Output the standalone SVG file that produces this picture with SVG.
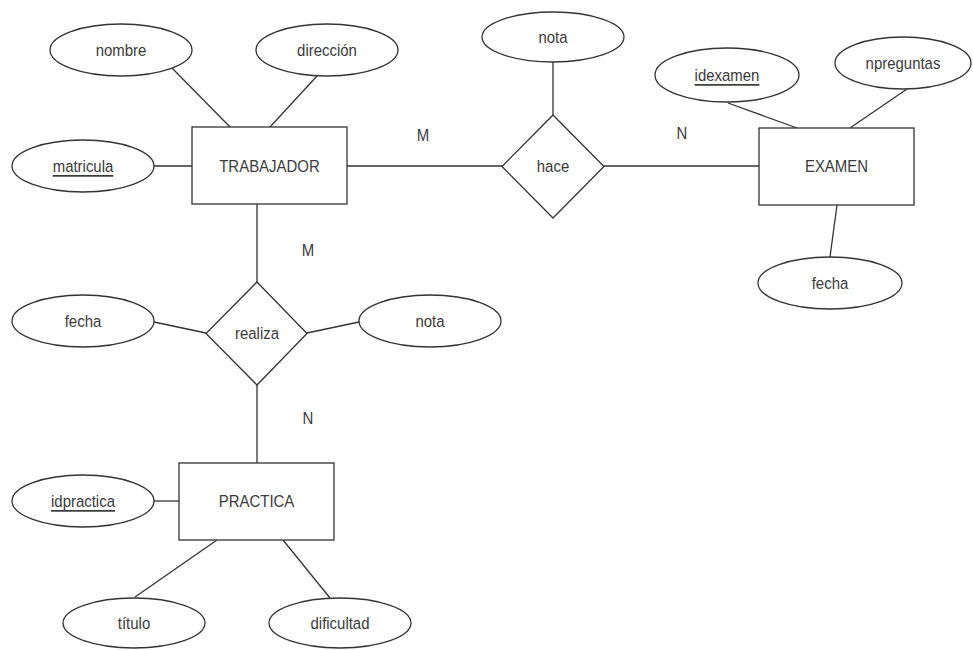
<svg xmlns="http://www.w3.org/2000/svg" width="973" height="650" viewBox="0 0 973 650">
<style>
.sh{fill:#fff;stroke:#333;stroke-width:1.3}
.ln{stroke:#333;stroke-width:1.3;fill:none}
text{font-family:"Liberation Sans",Arial,sans-serif;font-size:17px;fill:#3a3a3a;text-anchor:middle;dominant-baseline:central;transform-box:fill-box;transform-origin:center;transform:scaleX(0.88)}
.u{text-decoration:underline}
</style>
<rect width="973" height="650" fill="#fff"/>
<g id="connectors">
<line class="ln" x1="172" y1="68" x2="230" y2="127"/>
<line class="ln" x1="317" y1="76" x2="270" y2="127"/>
<line class="ln" x1="154" y1="166" x2="192" y2="166"/>
<line class="ln" x1="347" y1="166" x2="502" y2="166"/>
<line class="ln" x1="553" y1="62" x2="553" y2="115"/>
<line class="ln" x1="604" y1="166" x2="759" y2="166"/>
<line class="ln" x1="728" y1="103" x2="797" y2="128"/>
<line class="ln" x1="907" y1="89" x2="850" y2="128"/>
<line class="ln" x1="837" y1="205" x2="830" y2="257"/>
<line class="ln" x1="257" y1="204" x2="257" y2="282"/>
<line class="ln" x1="154" y1="322" x2="206" y2="333"/>
<line class="ln" x1="307" y1="333" x2="359" y2="322"/>
<line class="ln" x1="257" y1="385" x2="257" y2="463"/>
<line class="ln" x1="154" y1="501" x2="179" y2="501"/>
<line class="ln" x1="217" y1="540" x2="135" y2="597"/>
<line class="ln" x1="283" y1="540" x2="330" y2="598"/>
<text x="423" y="135">M</text>
<text x="682" y="133">N</text>
<text x="308" y="250">M</text>
<text x="308" y="418">N</text>
</g>
<g id="trabajador"><rect class="sh" x="192" y="127" width="155" height="77"/><text x="269.5" y="166">TRABAJADOR</text></g>
<g id="nombre"><ellipse class="sh" cx="121" cy="50" rx="71" ry="26"/><text x="121" y="50">nombre</text></g>
<g id="direccion"><ellipse class="sh" cx="327" cy="50" rx="71" ry="26"/><text x="327" y="50">dirección</text></g>
<g id="matricula"><ellipse class="sh" cx="83" cy="166" rx="71" ry="26"/><text class="u" x="83" y="166">matricula</text></g>
<g id="hace"><polygon class="sh" points="553,115 604,166.5 553,218 502,166.5"/><text x="553" y="166.5">hace</text></g>
<g id="nota1"><ellipse class="sh" cx="553" cy="37" rx="71" ry="25"/><text x="553" y="37">nota</text></g>
<g id="examen"><rect class="sh" x="759" y="128" width="155" height="77"/><text x="836.5" y="166.5">EXAMEN</text></g>
<g id="idexamen"><ellipse class="sh" cx="727" cy="75" rx="72" ry="27"/><text class="u" x="727" y="75">idexamen</text></g>
<g id="npreguntas"><ellipse class="sh" cx="903" cy="63" rx="68" ry="26"/><text x="903" y="63">npreguntas</text></g>
<g id="fecha1"><ellipse class="sh" cx="830" cy="283" rx="72" ry="26"/><text x="830" y="283">fecha</text></g>
<g id="realiza"><polygon class="sh" points="257,282 307,333.5 257,385 206,333.5"/><text x="257" y="333.5">realiza</text></g>
<g id="fecha2"><ellipse class="sh" cx="83" cy="321" rx="71" ry="26"/><text x="83" y="321">fecha</text></g>
<g id="nota2"><ellipse class="sh" cx="430" cy="321" rx="71" ry="26"/><text x="430" y="321">nota</text></g>
<g id="practica"><rect class="sh" x="179" y="463" width="155" height="77"/><text x="256.5" y="501.5">PRACTICA</text></g>
<g id="idpractica"><ellipse class="sh" cx="83" cy="501" rx="71" ry="26"/><text class="u" x="83" y="501">idpractica</text></g>
<g id="titulo"><ellipse class="sh" cx="134" cy="623" rx="71" ry="25"/><text x="134" y="623">título</text></g>
<g id="dificultad"><ellipse class="sh" cx="340" cy="623" rx="71" ry="25"/><text x="340" y="623">dificultad</text></g>
</svg>
